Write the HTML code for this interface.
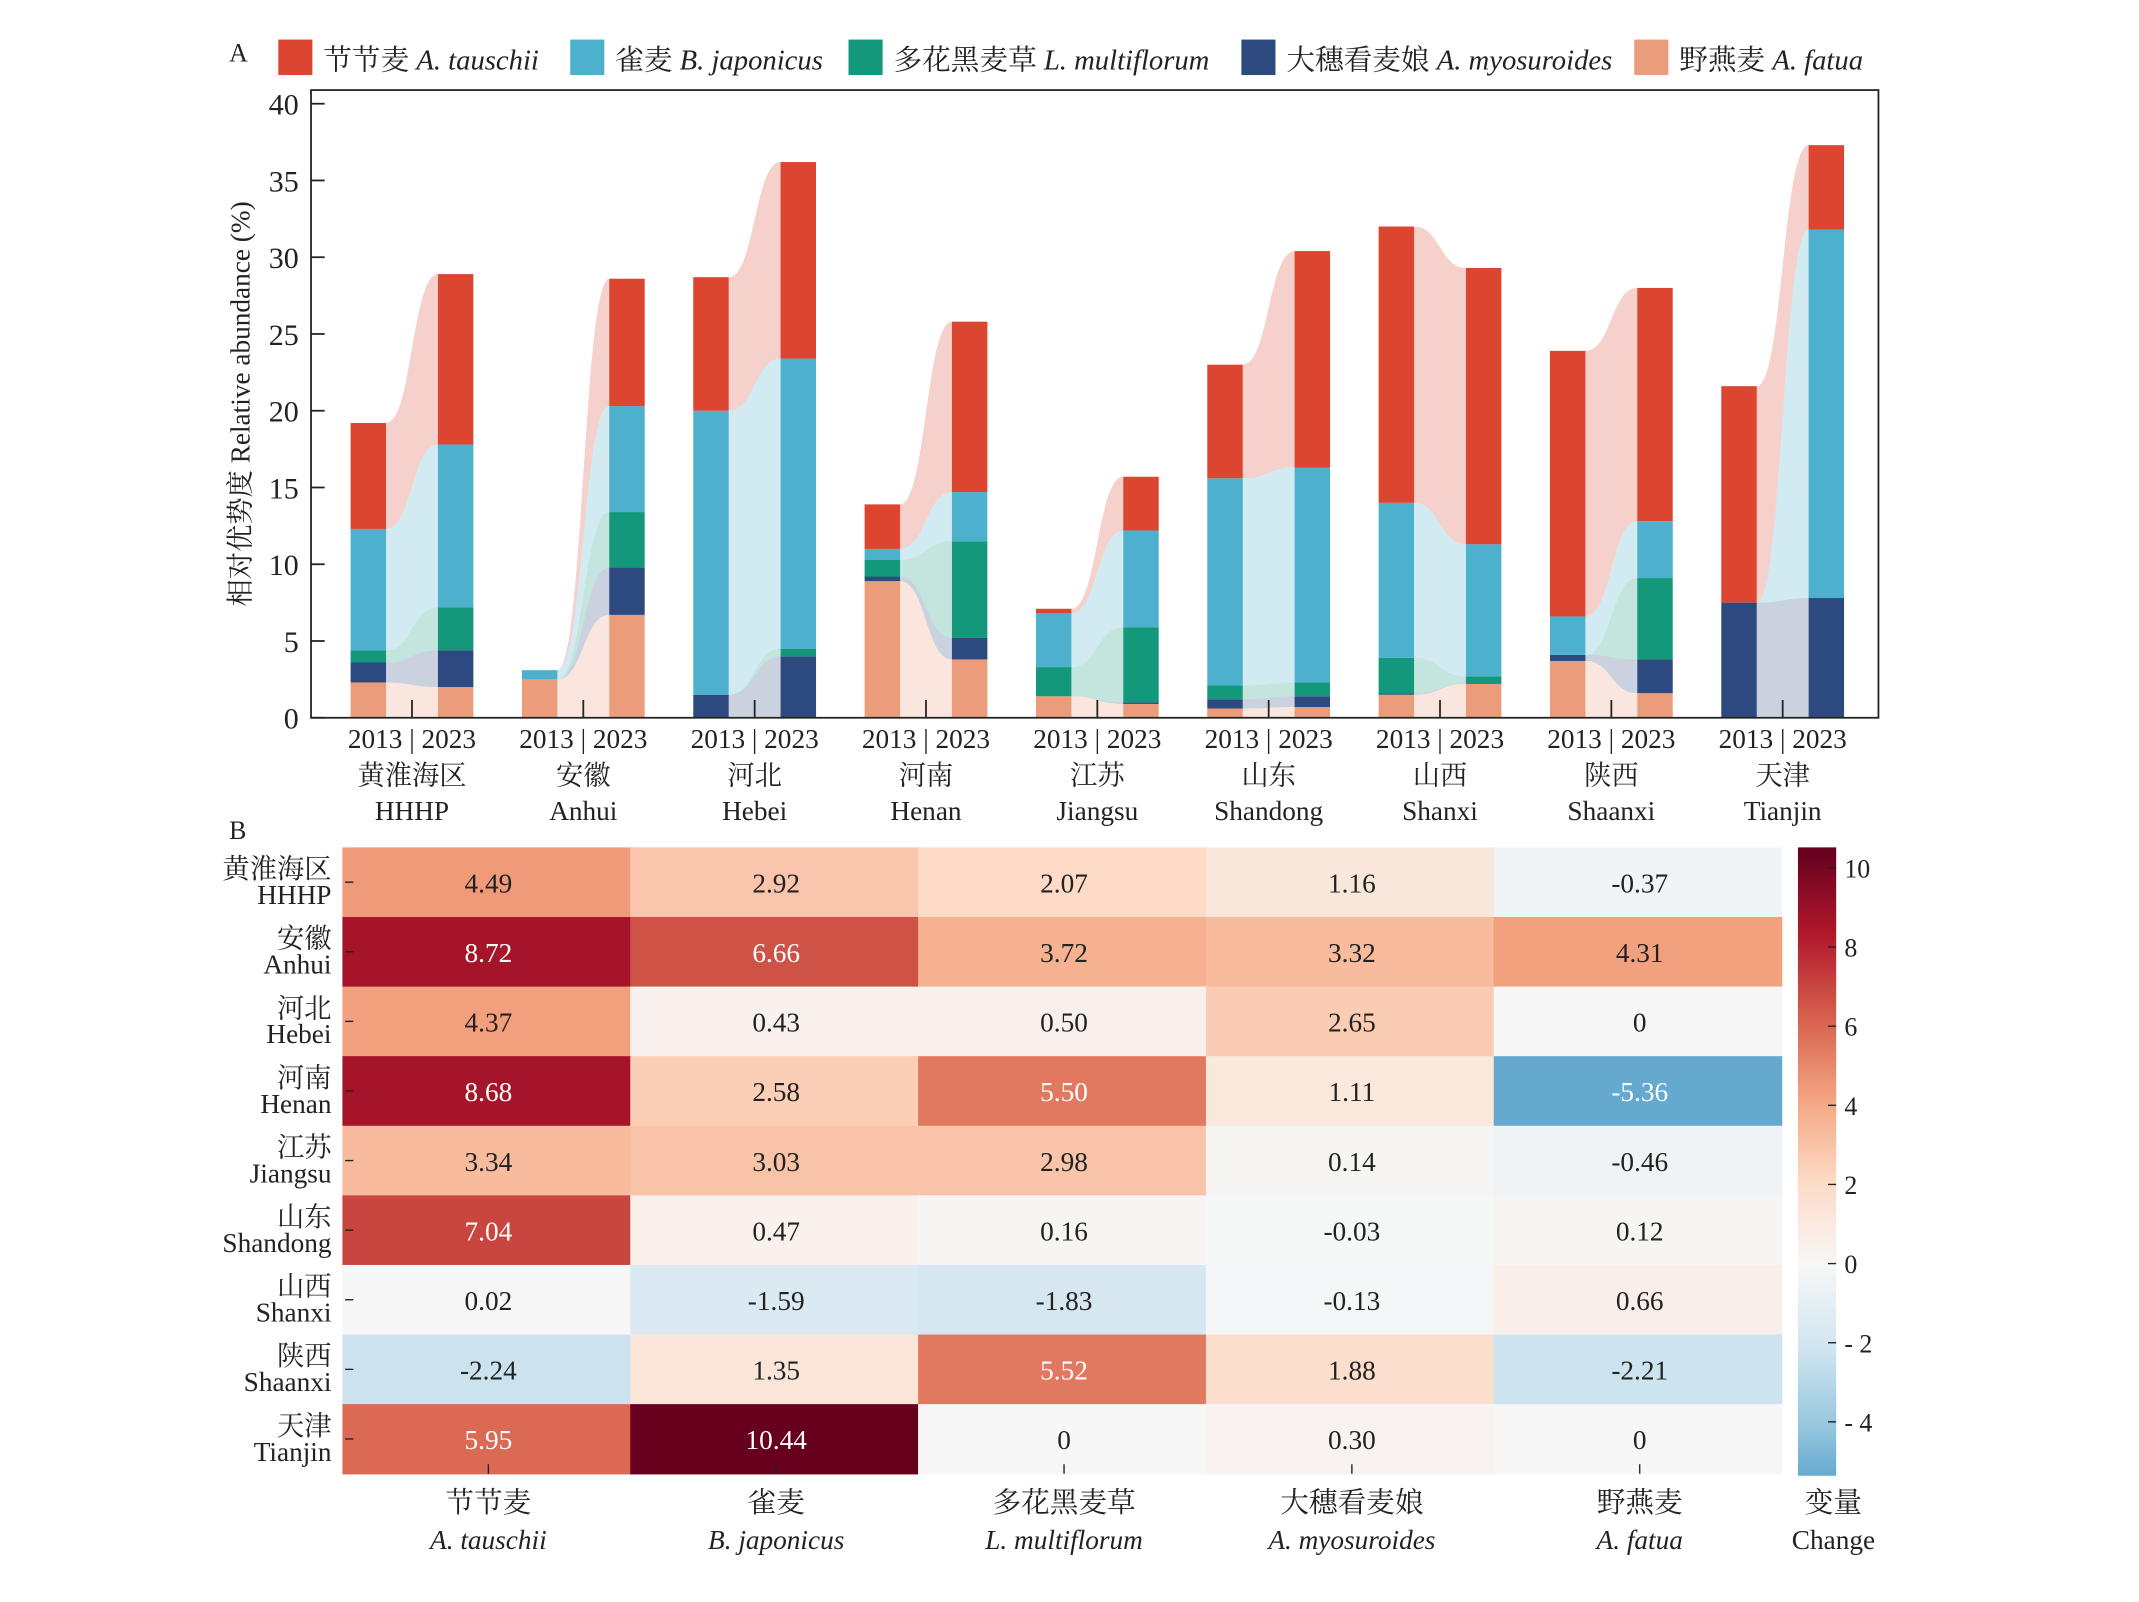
<!DOCTYPE html>
<html><head><meta charset="utf-8">
<style>
html,body{margin:0;padding:0;background:#fff;}
svg{display:block;}
text{font-family:"Liberation Serif","Noto Serif CJK SC","Noto Sans CJK SC",serif;fill:#222;}
</style></head>
<body>
<svg id="s" width="2139" height="1602" viewBox="0 0 1568 1174" preserveAspectRatio="none" xmlns="http://www.w3.org/2000/svg"></svg>
<script>
const S=document.getElementById('s');let h='';
const C=['#EB9C7A','#2D4A80','#14987B','#4DB1CE','#DC4530'];
const y=v=>526-v*11.25;
h+='<text x="168" y="45" font-size="19">A</text>';
const leg=[[204,'节节麦','A. tauschii','#DC4530'],[418,'雀麦','B. japonicus','#4DB1CE'],[622,'多花黑麦草','L. multiflorum','#14987B'],[910,'大穗看麦娘','A. myosuroides','#2D4A80'],[1198,'野燕麦','A. fatua','#EB9C7A']];
leg.forEach(l=>{h+=`<rect x="${l[0]}" y="29" width="25" height="26" fill="${l[3]}"/><text x="${l[0]+33}" y="51" font-size="21">${l[1]} <tspan font-style="italic">${l[2]}</tspan></text>`;});
const D=[
['黄淮海区','HHHP',[2.3,3.6,4.4,12.3,19.2],[2.0,4.4,7.2,17.8,28.9]],
['安徽','Anhui',[2.5,2.5,2.5,3.1,3.1],[6.7,9.8,13.4,20.3,28.6]],
['河北','Hebei',[0,1.5,1.5,20.0,28.7],[0,4.0,4.5,23.4,36.2]],
['河南','Henan',[8.9,9.2,10.3,11.0,13.9],[3.8,5.2,11.5,14.7,25.8]],
['江苏','Jiangsu',[1.4,1.4,3.3,6.8,7.1],[0.9,1.0,5.9,12.2,15.7]],
['山东','Shandong',[0.6,1.2,2.1,15.6,23.0],[0.7,1.4,2.3,16.3,30.4]],
['山西','Shanxi',[1.5,1.6,3.9,14.0,32.0],[2.2,2.2,2.7,11.3,29.3]],
['陕西','Shaanxi',[3.7,4.1,4.1,6.6,23.9],[1.6,3.8,9.1,12.8,28.0]],
['天津','Tianjin',[0,7.5,7.5,7.5,21.6],[0,7.8,7.8,31.8,37.3]]];
D.forEach((d,i)=>{
 const c=302+i*125.6;const a=d[2],b=d[3];
 const xL=c-19,xR=c+19,xm=c;
 for(let k=0;k<5;k++){
  const t0=y(a[k]),b0=y(k?a[k-1]:0),t1=y(b[k]),b1=y(k?b[k-1]:0);
  h+=`<path d="M${xL},${t0} C${xm},${t0} ${xm},${t1} ${xR},${t1} L${xR},${b1} C${xm},${b1} ${xm},${b0} ${xL},${b0} Z" fill="${C[k]}" fill-opacity="0.25"/>`;
  h+=`<rect x="${c-45}" y="${t0}" width="26" height="${b0-t0}" fill="${C[k]}"/>`;
  h+=`<rect x="${c+19}" y="${t1}" width="26" height="${b1-t1}" fill="${C[k]}"/>`;
 }
 h+=`<line x1="${c}" y1="526" x2="${c}" y2="513" stroke="#222" stroke-width="1.3"/>`;
 h+=`<text x="${c}" y="548" font-size="20" text-anchor="middle">2013 | 2023</text>`;
 h+=`<text x="${c}" y="575" font-size="20" text-anchor="middle">${d[0]}</text>`;
 h+=`<text x="${c}" y="601" font-size="20" text-anchor="middle">${d[1]}</text>`;
});
h+='<rect x="228" y="66" width="1149" height="460" fill="none" stroke="#222" stroke-width="1.3"/>';
for(let v=0;v<=40;v+=5){const yy=y(v);h+=`<line x1="228" y1="${yy}" x2="238" y2="${yy}" stroke="#222" stroke-width="1.3"/><text x="219" y="${yy+8}" font-size="22" text-anchor="end">${v}</text>`;}
h+='<text transform="translate(183,296) rotate(-90)" font-size="20" text-anchor="middle">相对优势度 Relative abundance (%)</text>';
h+='<text x="168" y="615" font-size="19">B</text>';
const H=[[4.49,2.92,2.07,1.16,-0.37],[8.72,6.66,3.72,3.32,4.31],[4.37,0.43,0.50,2.65,0],[8.68,2.58,5.50,1.11,-5.36],[3.34,3.03,2.98,0.14,-0.46],[7.04,0.47,0.16,-0.03,0.12],[0.02,-1.59,-1.83,-0.13,0.66],[-2.24,1.35,5.52,1.88,-2.21],[5.95,10.44,0,0.30,0]];
const lab=['4.49','2.92','2.07','1.16','-0.37','8.72','6.66','3.72','3.32','4.31','4.37','0.43','0.50','2.65','0','8.68','2.58','5.50','1.11','-5.36','3.34','3.03','2.98','0.14','-0.46','7.04','0.47','0.16','-0.03','0.12','0.02','-1.59','-1.83','-0.13','0.66','-2.24','1.35','5.52','1.88','-2.21','5.95','10.44','0','0.30','0'];
const P=['#053061','#2166ac','#4393c3','#92c5de','#d1e5f0','#f7f7f7','#fddbc7','#f4a582','#d6604d','#b2182b','#67001f'];
function hx(s){return [1,3,5].map(i=>parseInt(s.substr(i,2),16));}
function col(v){let t=(v+10.44)/20.88;t=Math.max(0,Math.min(1,t))*10;let i=Math.min(9,Math.floor(t));let f=t-i;const a=hx(P[i]),b=hx(P[i+1]);return 'rgb('+a.map((x,j)=>Math.round(x+(b[j]-x)*f)).join(',')+')';}
H.forEach((r,i)=>{r.forEach((v,j)=>{const x=251+j*211,yy=621+i*51;
 h+=`<rect x="${x}" y="${yy}" width="211.5" height="51.5" fill="${col(v)}"/>`;
 h+=`<text x="${x+107}" y="${yy+33}" font-size="20" text-anchor="middle" style="fill:${Math.abs(v)>5?'#fff':'#222'}">${lab[i*5+j]}</text>`;});
 const cy=621+i*51+25.5;
 h+=`<line x1="253" y1="${cy}" x2="259" y2="${cy}" stroke="#222"/>`;
 h+=`<text x="243" y="${cy-3}" font-size="20" text-anchor="end">${D[i][0]}</text><text x="243" y="${cy+16}" font-size="20" text-anchor="end">${D[i][1]}</text>`;
});
const cn=['节节麦','雀麦','多花黑麦草','大穗看麦娘','野燕麦'],en=['A. tauschii','B. japonicus','L. multiflorum','A. myosuroides','A. fatua'];
cn.forEach((t,j)=>{const x=251+j*211+107;h+=`<line x1="${x}" y1="1073" x2="${x}" y2="1080" stroke="#222"/><text x="${x}" y="1108" font-size="21" text-anchor="middle">${t}</text><text x="${x}" y="1135" font-size="20" font-style="italic" text-anchor="middle">${en[j]}</text>`;});
for(let k=0;k<460;k+=2){const v=10.52-(k/459)*15.83;h+=`<rect x="1318" y="${621+k}" width="28" height="2.5" fill="${col(v)}"/>`;}
[10,8,6,4,2,0,-2,-4].forEach(v=>{const yy=926-v*29;h+=`<line x1="1340" y1="${yy}" x2="1346" y2="${yy}" stroke="#222"/><text x="1352" y="${yy+7}" font-size="19">${v<0?'- '+(-v):v}</text>`;});
h+='<text x="1344" y="1108" font-size="21" text-anchor="middle">变量</text><text x="1344" y="1135" font-size="20" text-anchor="middle">Change</text>';
S.innerHTML=h;
</script>
</body></html>
